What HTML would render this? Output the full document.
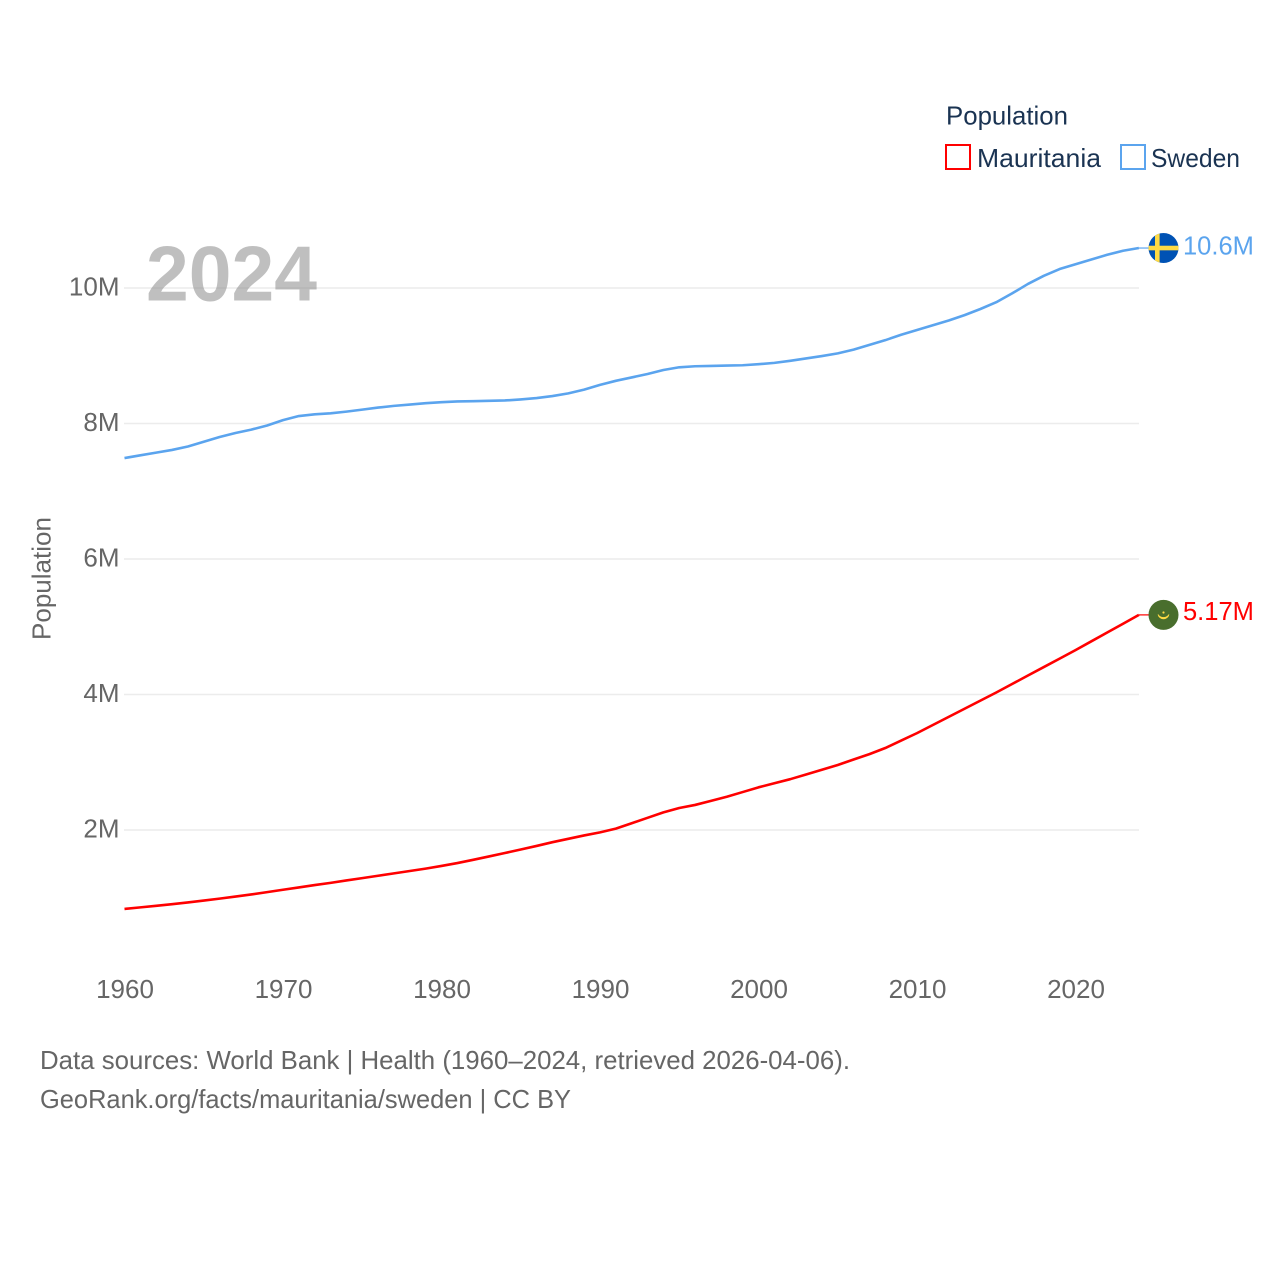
<!DOCTYPE html>
<html lang="en">
<head>
<meta charset="utf-8">
<title>Population: Mauritania and Sweden</title>
<style>
html,body{margin:0;padding:0;background:#fff;}
svg{display:block;font-family:"Liberation Sans",sans-serif;}
</style>
</head>
<body>
<svg id="chart" width="1280" height="1280" viewBox="0 0 1280 1280" xmlns="http://www.w3.org/2000/svg">
  <rect x="0" y="0" width="1280" height="1280" fill="#ffffff"/>
  <g id="grid"></g>
  <text x="146" y="300.5" font-size="78" font-weight="700" fill="rgb(128,128,128)" fill-opacity="0.5" textLength="171" lengthAdjust="spacingAndGlyphs">2024</text>
  <g id="y-ticks"></g>
  <g id="x-ticks"></g>
  <text transform="translate(50.5 640) rotate(-90)" font-size="26" fill="#666666" textLength="123" lengthAdjust="spacingAndGlyphs">Population</text>
  <g id="series"></g>
  <g>
    <text x="946" y="124.5" font-size="26" fill="#1a3352" textLength="122" lengthAdjust="spacingAndGlyphs">Population</text>
    <g>
      <rect x="946" y="145" width="24" height="24" fill="#ffffff" stroke="#ff0000" stroke-width="2"/>
      <text x="977" y="167" font-size="26" fill="#1a3352" textLength="124" lengthAdjust="spacingAndGlyphs">Mauritania</text>
    </g>
    <g>
      <rect x="1121" y="145" width="24" height="24" fill="#ffffff" stroke="#5ba4ee" stroke-width="2"/>
      <text x="1151" y="167" font-size="26" fill="#1a3352" textLength="89" lengthAdjust="spacingAndGlyphs">Sweden</text>
    </g>
  </g>
  <g>
    <text x="40" y="1069" font-size="26" fill="#666666" textLength="810" lengthAdjust="spacingAndGlyphs">Data sources: World Bank | Health (1960–2024, retrieved 2026-04-06).</text>
    <text x="40" y="1108" font-size="26" fill="#666666" textLength="531" lengthAdjust="spacingAndGlyphs">GeoRank.org/facts/mauritania/sweden | CC BY</text>
  </g>
</svg>
<script>
const years = [1960,1961,1962,1963,1964,1965,1966,1967,1968,1969,1970,1971,1972,1973,1974,1975,1976,1977,1978,1979,1980,1981,1982,1983,1984,1985,1986,1987,1988,1989,1990,1991,1992,1993,1994,1995,1996,1997,1998,1999,2000,2001,2002,2003,2004,2005,2006,2007,2008,2009,2010,2011,2012,2013,2014,2015,2016,2017,2018,2019,2020,2021,2022,2023,2024];
const swedenValues = [7.49,7.53,7.57,7.61,7.66,7.73,7.80,7.86,7.91,7.97,8.05,8.11,8.135,8.15,8.175,8.205,8.235,8.26,8.28,8.30,8.315,8.325,8.33,8.335,8.34,8.355,8.375,8.405,8.445,8.50,8.57,8.63,8.68,8.73,8.79,8.83,8.845,8.85,8.855,8.86,8.875,8.895,8.925,8.96,8.995,9.035,9.09,9.16,9.23,9.31,9.38,9.45,9.52,9.60,9.69,9.79,9.92,10.06,10.18,10.28,10.35,10.42,10.49,10.55,10.59];
const mauritaniaValues = [0.835,0.858,0.881,0.905,0.931,0.958,0.987,1.017,1.049,1.083,1.118,1.152,1.187,1.220,1.255,1.290,1.325,1.360,1.395,1.430,1.470,1.512,1.560,1.610,1.660,1.712,1.765,1.820,1.870,1.920,1.965,2.020,2.100,2.180,2.260,2.325,2.370,2.430,2.490,2.560,2.630,2.690,2.750,2.820,2.890,2.960,3.040,3.120,3.210,3.320,3.430,3.550,3.670,3.790,3.910,4.030,4.155,4.280,4.405,4.530,4.655,4.785,4.915,5.045,5.175];
const yTickValues = [2,4,6,8,10];
const yTickLabels = ["2M","4M","6M","8M","10M"];
const xTickValues = [1960,1970,1980,1990,2000,2010,2020];
const xTickLabels = ["1960","1970","1980","1990","2000","2010","2020"];
const swedenEndLabel = "10.6M";
const mauritaniaEndLabel = "5.17M";

const NS = "http://www.w3.org/2000/svg";
function xScale(year){ return 124.5 + (year - 1960) * 15.85; }
function yScale(value){ return 965.5 - value * 67.75; }
function make(parent, tag, attrs, text){
  const node = document.createElementNS(NS, tag);
  for (const key in attrs) node.setAttribute(key, attrs[key]);
  if (text !== undefined) node.textContent = text;
  parent.appendChild(node);
  return node;
}

const gridGroup = document.getElementById("grid");
const yGroup = document.getElementById("y-ticks");
yTickValues.forEach(function(v, i){
  const line = make(gridGroup, "line", {x1:124, x2:1139, y1:yScale(v), y2:yScale(v), stroke:"#ececec", "stroke-width":1.6});
  
  
  const label = make(yGroup, "text", {x:119.5, y:yScale(v) + 7.5, "text-anchor":"end", "font-size":26, fill:"#666666"}, yTickLabels[i]);
  
  
});

const xGroup = document.getElementById("x-ticks");
xTickValues.forEach(function(v, i){
  const label = make(xGroup, "text", {x:xScale(v) + 0.5, y:998, "text-anchor":"middle", "font-size":26, fill:"#666666"}, xTickLabels[i]);
  
  
});

function linePoints(values){
  return values.map(function(v, i){ return xScale(years[i]).toFixed(2) + "," + yScale(v).toFixed(2); }).join(" ");
}
const seriesGroup = document.getElementById("series");

const swedenLine = make(seriesGroup, "polyline", {points:linePoints(swedenValues), fill:"none", stroke:"#5ba4ee", "stroke-width":2.6, "stroke-linejoin":"round"});


const mauritaniaLine = make(seriesGroup, "polyline", {points:linePoints(mauritaniaValues), fill:"none", stroke:"#ff0000", "stroke-width":2.6, "stroke-linejoin":"round"});



const lastYear = years[years.length - 1];
const swedenEndY = yScale(swedenValues[swedenValues.length - 1]);
const mauritaniaEndY = yScale(mauritaniaValues[mauritaniaValues.length - 1]);

const swedenConnector = make(seriesGroup, "line", {x1:xScale(lastYear), x2:1149, y1:swedenEndY, y2:swedenEndY, stroke:"#5ba4ee", "stroke-width":1.2});


const mauritaniaConnector = make(seriesGroup, "line", {x1:xScale(lastYear), x2:1149, y1:mauritaniaEndY, y2:mauritaniaEndY, stroke:"#ff0000", "stroke-width":1.2});



/* Sweden flag */
const clip = make(seriesGroup, "clipPath", {id:"sweden-clip"});
make(clip, "circle", {cx:0, cy:0, r:15});
const swedenFlag = make(seriesGroup, "g", {transform:"translate(1163.5 " + swedenEndY + ")", "clip-path":"url(#sweden-clip)"});


make(swedenFlag, "rect", {x:-15, y:-15, width:30, height:30, fill:"#0052b4"});
make(swedenFlag, "rect", {x:-8.5, y:-15, width:4.6, height:30, fill:"#ffda44"});
make(swedenFlag, "rect", {x:-15, y:-2.3, width:30, height:4.6, fill:"#ffda44"});

/* Mauritania flag */
const mauritaniaFlag = make(seriesGroup, "g", {transform:"translate(1163.5 " + mauritaniaEndY + ")"});


make(mauritaniaFlag, "circle", {cx:0, cy:0, r:15, fill:"#496e2d"});
make(mauritaniaFlag, "path", {d:"M-5.5 -0.5 A5.6 5.6 0 0 0 5.5 -0.5 A6.5 6.5 0 0 1 -5.5 -0.5 Z", fill:"#ffda44", stroke:"#ffda44", "stroke-width":0.7});
make(mauritaniaFlag, "circle", {cx:0, cy:-2.4, r:1.1, fill:"#ffda44"});

const swedenValueLabel = make(seriesGroup, "text", {x:1183, y:swedenEndY + 6.5, "font-size":25.5, fill:"#5ba4ee"}, swedenEndLabel);


const mauritaniaValueLabel = make(seriesGroup, "text", {x:1183, y:mauritaniaEndY + 5, "font-size":25.5, fill:"#ff0000"}, mauritaniaEndLabel);


</script>
</body>
</html>
